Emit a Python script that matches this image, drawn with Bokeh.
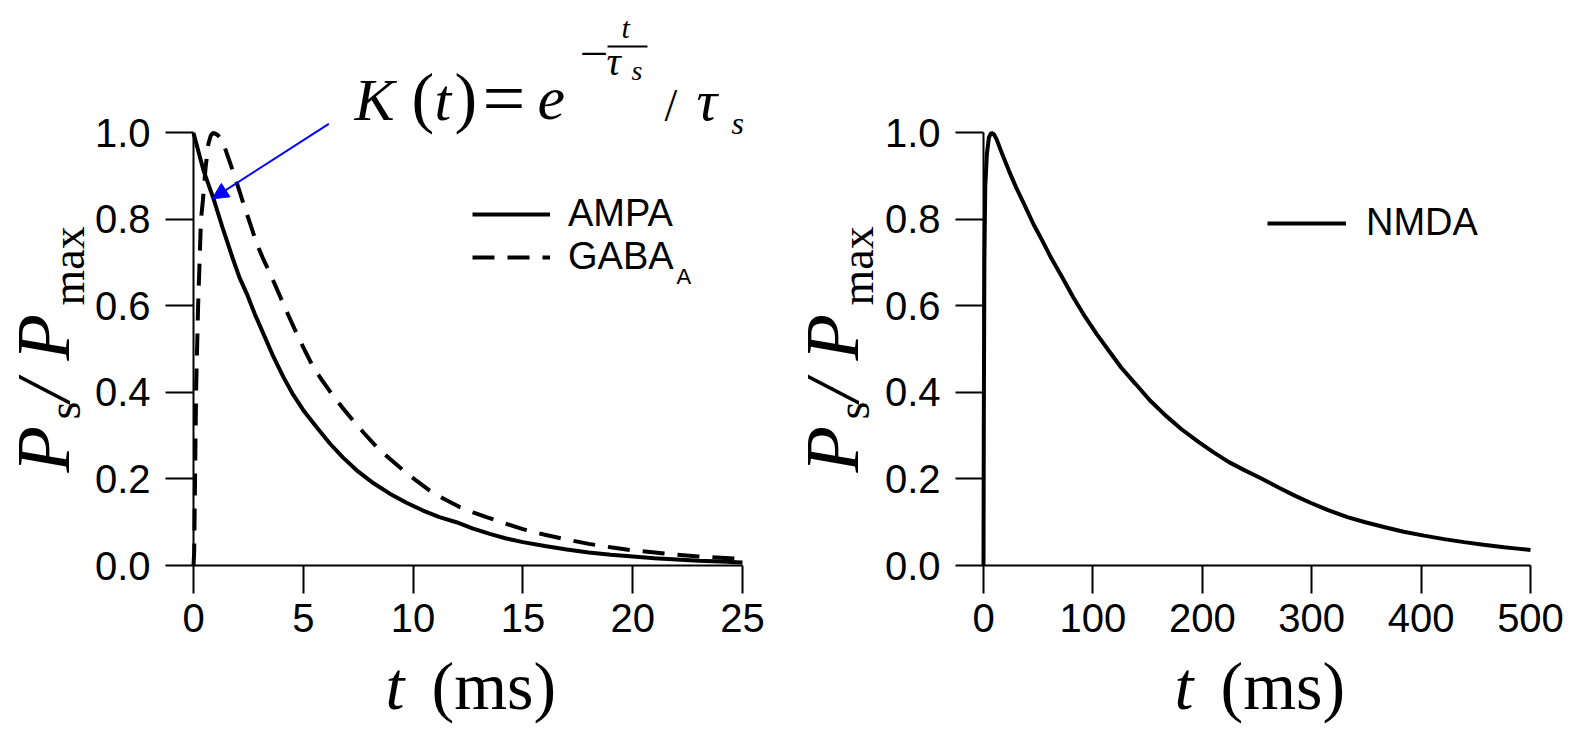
import math
from bokeh.plotting import figure
from bokeh.models import (Range1d, FixedTicker, PrintfTickFormatter, Label, Arrow,
                          NormalHead, Legend, LegendItem)
from bokeh.layouts import row
from bokeh.embed import file_html
from bokeh.resources import INLINE

# ---------------- data ----------------
ampa_t = [0, 0.45, 0.91, 1.36, 1.82, 2.1, 2.43, 2.8, 3.18, 3.6, 4.09, 4.5, 5.0, 5.6, 6.21,
          6.8, 7.43, 8.2, 8.94, 9.7, 10.45, 11.2, 11.97, 12.7, 13.49, 14.2, 15, 16, 17,
          18, 19, 20, 21, 22, 23, 24, 25]
ampa_v = [1.0, 0.914, 0.848, 0.775, 0.705, 0.665, 0.628, 0.58, 0.536, 0.487, 0.436, 0.398,
          0.359, 0.32, 0.282, 0.25, 0.22, 0.19, 0.166, 0.145, 0.127, 0.112, 0.10, 0.086,
          0.073, 0.063, 0.054, 0.045, 0.037, 0.030, 0.025, 0.021, 0.017, 0.014, 0.011,
          0.009, 0.007]

gaba_t = [0, 0.03, 0.12, 0.21, 0.34, 0.43, 0.55, 0.68, 0.78, 0.88, 1.0, 1.1, 1.29, 1.48,
          1.67, 1.97, 2.27, 2.58, 2.88, 3.18, 3.49, 4.02, 4.35, 4.7, 5.07, 5.45, 5.87, 6.29,
          6.78, 7.27, 7.8, 8.34, 8.95, 9.55, 10.15, 10.76, 11.44, 12.12, 12.73, 13.34, 14.2,
          15, 16, 17, 18, 19, 20, 21, 22, 23, 24, 25]
gaba_v = [0, 0.03, 0.41, 0.6, 0.8, 0.845, 0.92, 0.975, 0.993, 1.0, 0.998, 0.995, 0.983,
          0.958, 0.93, 0.885, 0.837, 0.79, 0.744, 0.708, 0.675, 0.613, 0.575, 0.536, 0.497,
          0.459, 0.427, 0.397, 0.365, 0.335, 0.304, 0.274, 0.246, 0.22, 0.196, 0.173, 0.153,
          0.135, 0.123, 0.112, 0.097, 0.084, 0.071, 0.060, 0.050, 0.042, 0.035, 0.030,
          0.025, 0.021, 0.018, 0.015]

nmda_t = [0, 0.3, 0.8, 1.6, 3.1, 5, 7.1, 9.5, 12, 17, 23, 30, 38.3, 45.5, 53.5, 62, 71.8,
          82, 93.1, 103.5, 114.4, 126, 138.9, 152, 166.3, 181, 196.8, 210, 224.3, 238,
          251.7, 271.4, 285, 298.8, 315, 332.6, 349, 366, 384, 402.7, 421, 439.3, 457,
          475.9, 488, 500]
nmda_v = [0, 0.35, 0.7, 0.875, 0.952, 0.99, 1.0, 0.997, 0.985, 0.952, 0.914, 0.873, 0.829,
          0.79, 0.752, 0.71, 0.667, 0.62, 0.574, 0.535, 0.497, 0.457, 0.42, 0.382, 0.347,
          0.315, 0.285, 0.262, 0.239, 0.221, 0.204, 0.178, 0.161, 0.145, 0.128, 0.112, 0.1,
          0.089, 0.078, 0.069, 0.061, 0.054, 0.048, 0.042, 0.039, 0.036]

x_ticks_left = [0, 5, 10, 15, 20, 25]
x_ticks_right = [0, 100, 200, 300, 400, 500]
y_ticks = [0.0, 0.2, 0.4, 0.6, 0.8, 1.0]

# ---------------- layout constants (page pixels) ----------------
H = 733
Y0_PAGE = 565.0          # page y of value 0
YS = 432.6               # px per unit of P_s/P_max
W1, W2 = 788, 790        # canvas widths of the two panels
X0_1, XS_1 = 193.0, 549 / 25.0     # left panel: page x of t=0, px per ms
X0_2, XS_2 = 983.0, 547 / 500.0    # right panel
K_BASE = 0.34            # correction: label anchor vs. visible baseline (in em)


def make_fig(width, canvas_left, x0, xs, xmax, xticks):
    xr = Range1d((canvas_left - x0) / xs, (canvas_left + width - x0) / xs)
    yr = Range1d((Y0_PAGE - H) / YS, Y0_PAGE / YS)
    p = figure(width=width, height=H, x_range=xr, y_range=yr,
               output_backend="svg", toolbar_location=None, min_border=0)
    p.outline_line_color = None
    p.grid.visible = False
    p.background_fill_color = "white"
    p.border_fill_color = "white"
    for ax in (p.xaxis[0], p.yaxis[0]):
        ax.fixed_location = 0
        ax.axis_line_width = 2
        ax.axis_line_color = "black"
        ax.major_tick_line_width = 2
        ax.major_tick_line_color = "black"
        ax.major_tick_out = 28
        ax.major_tick_in = 0
        ax.minor_tick_out = 0
        ax.minor_tick_in = 0
        ax.major_label_text_font = "Liberation Sans"
        ax.major_label_text_font_size = "40px"
        ax.major_label_text_color = "black"
    p.xaxis.bounds = (0, xmax)
    p.yaxis.bounds = (0, 1)
    p.xaxis.ticker = FixedTicker(ticks=xticks)
    p.yaxis.ticker = FixedTicker(ticks=y_ticks)
    p.yaxis.formatter = PrintfTickFormatter(format="%.1f")
    p.yaxis.major_label_standoff = 15
    p.xaxis.major_label_standoff = 10
    return p


p1 = make_fig(W1, 0, X0_1, XS_1, 25, x_ticks_left)
p2 = make_fig(W2, W1, X0_2, XS_2, 500, x_ticks_right)


def put(p, x0, xs, px, py, text, size, style="normal", font="Liberation Serif",
        rotated=False, color="black"):
    if rotated:
        px = px - K_BASE * size
        angle = math.pi / 2
    else:
        py = py - K_BASE * size
        angle = 0.0
    p.add_layout(Label(x=(px - x0) / xs, y=(Y0_PAGE - py) / YS, text=text,
                       text_font=font, text_font_size=f"{size}px",
                       text_font_style=style, angle=angle, text_color=color,
                       text_baseline="alphabetic", text_align="left"))


# ---------------- curves ----------------
r_ampa = p1.line(ampa_t, ampa_v, line_color="black", line_width=4)
r_gaba = p1.line(gaba_t, gaba_v, line_color="black", line_width=4, line_dash="22 13")
r_nmda = p2.line(nmda_t, nmda_v, line_color="black", line_width=4)

# ---------------- legends (location = bottom-left, from frame bottom-left) ----------------
leg1 = Legend(items=[LegendItem(label="AMPA", renderers=[r_ampa]),
                     LegendItem(label="GABA", renderers=[r_gaba])],
              location=(472, H - 278), glyph_width=78, glyph_height=42, label_height=42,
              spacing=0, padding=0, margin=0, label_standoff=18,
              label_text_font="Liberation Sans", label_text_font_size="38px",
              label_text_color="black",
              border_line_color=None, background_fill_alpha=0)
p1.add_layout(leg1)
put(p1, X0_1, XS_1, 676, 283, "A", 22, font="Liberation Sans")

leg2 = Legend(items=[LegendItem(label="NMDA", renderers=[r_nmda])],
              location=(1267 - W1, H - 244), glyph_width=79, glyph_height=42, label_height=42,
              spacing=0, padding=0, margin=0, label_standoff=20,
              label_text_font="Liberation Sans", label_text_font_size="38px",
              label_text_color="black",
              border_line_color=None, background_fill_alpha=0)
p2.add_layout(leg2)

# ---------------- axis labels ----------------
for p, x0, xs, dx in ((p1, X0_1, XS_1, 0), (p2, X0_2, XS_2, 789)):
    # x label: t (ms)
    put(p, x0, xs, 385 + dx, 709, "t", 68, style="italic")
    put(p, x0, xs, 431 + dx, 709, "(ms)", 68)
    # y label: P_s / P_max (rotated)
    put(p, x0, xs, 68 + dx, 472, "P", 76, style="italic", rotated=True)
    put(p, x0, xs, 80 + dx, 419, "s", 46, rotated=True)
    put(p, x0, xs, 68 + dx, 401, "/", 76, style="italic", rotated=True)
    put(p, x0, xs, 68 + dx, 360, "P", 76, style="italic", rotated=True)
    put(p, x0, xs, 84 + dx, 305, "max", 46, rotated=True)

# ---------------- formula K(t) = e^{-t/tau_s} / tau_s ----------------
put(p1, X0_1, XS_1, 354, 120, "K", 60, style="italic")
put(p1, X0_1, XS_1, 411, 120, "(", 68)
put(p1, X0_1, XS_1, 434, 120, "t", 60, style="italic")
put(p1, X0_1, XS_1, 454, 120, ")", 68)
put(p1, X0_1, XS_1, 482, 123, "=", 76)
put(p1, X0_1, XS_1, 537, 120, "e", 62, style="italic")
put(p1, X0_1, XS_1, 582, 65, "\u2013", 46)
put(p1, X0_1, XS_1, 621, 37, "t", 30, style="italic")
put(p1, X0_1, XS_1, 606, 75, "\u03c4", 40, style="italic")
put(p1, X0_1, XS_1, 631, 80, "s", 28, style="italic")
put(p1, X0_1, XS_1, 664, 121, "/", 46)
put(p1, X0_1, XS_1, 696, 120, "\u03c4", 58, style="italic")
put(p1, X0_1, XS_1, 731, 133, "s", 32, style="italic")

bar_px = [607, 647]
bar_py = 46
p1.add_layout(Arrow(x_start=(bar_px[0] - X0_1) / XS_1, y_start=(Y0_PAGE - bar_py) / YS,
                    x_end=(bar_px[1] - X0_1) / XS_1, y_end=(Y0_PAGE - bar_py) / YS,
                    start=None, end=None, line_color="black", line_width=2))

# blue arrow pointing at the AMPA curve
arrow_from = (328.3, 123.3)
arrow_to = (211.7, 198.3)
p1.add_layout(Arrow(x_start=(arrow_from[0] - X0_1) / XS_1, y_start=(Y0_PAGE - arrow_from[1]) / YS,
                    x_end=(arrow_to[0] - X0_1) / XS_1, y_end=(Y0_PAGE - arrow_to[1]) / YS,
                    line_color="#0000ff", line_width=2,
                    end=NormalHead(size=16, fill_color="#0000ff", line_color="#0000ff",
                                   line_width=1)))

layout = row(p1, p2)
open("out.html", "w").write(file_html(layout, INLINE))
